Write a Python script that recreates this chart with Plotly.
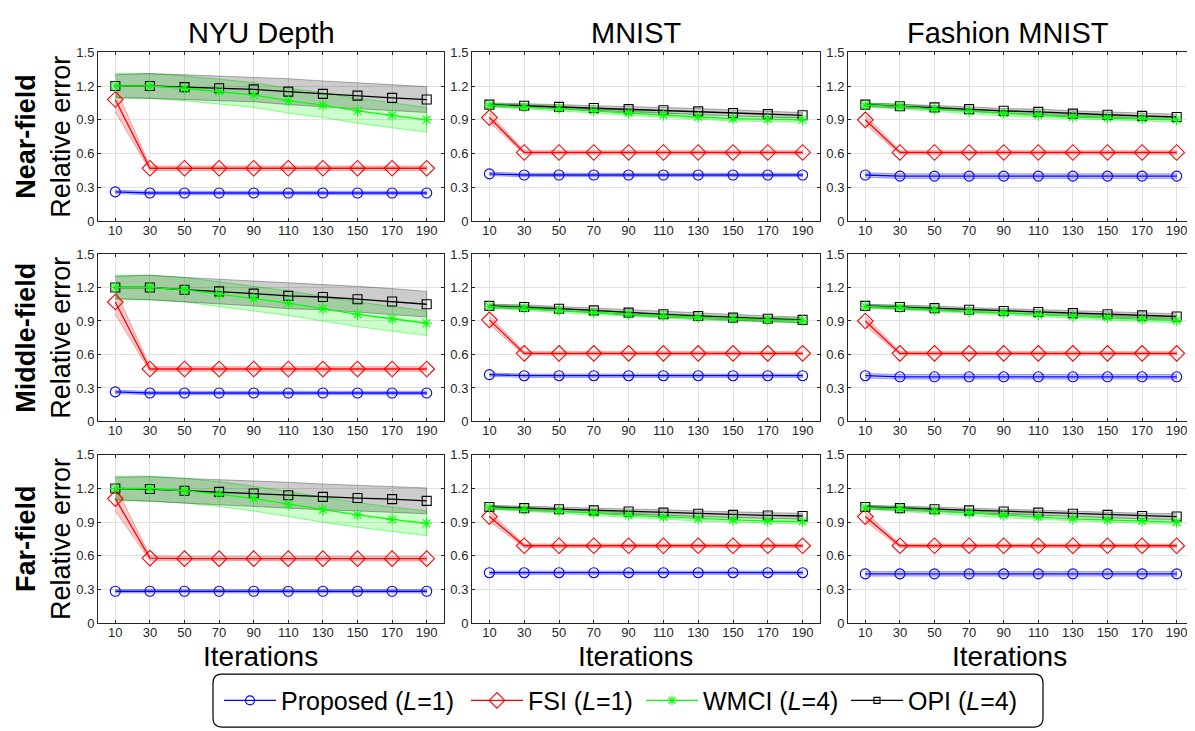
import plotly.graph_objects as go

W, H = 1195, 731

iterations = [10, 30, 50, 70, 90, 110, 130, 150, 170, 190]
datasets = ["NYU Depth", "MNIST", "Fashion MNIST"]
fields = ["Near-field", "Middle-field", "Far-field"]
method_names = ["Proposed (<i>L</i>=1)", "FSI (<i>L</i>=1)", "WMCI (<i>L</i>=4)", "OPI (<i>L</i>=4)"]
y_tick_vals = [0, 0.3, 0.6, 0.9, 1.2, 1.5]
y_tick_text = ["0", "0.3", "0.6", "0.9", "1.2", "1.5"]

# ---- Near-field ----
near_nyu_proposed = [0.26, 0.25, 0.25, 0.25, 0.25, 0.25, 0.25, 0.25, 0.25, 0.25]
near_nyu_fsi = [1.08, 0.47, 0.47, 0.47, 0.47, 0.47, 0.47, 0.47, 0.47, 0.47]
near_nyu_wmci = [1.20, 1.20, 1.18, 1.15, 1.12, 1.07, 1.03, 0.98, 0.94, 0.90]
near_nyu_opi = [1.20, 1.20, 1.19, 1.18, 1.17, 1.15, 1.13, 1.115, 1.095, 1.08]

near_mnist_proposed = [0.42, 0.41, 0.41, 0.41, 0.41, 0.41, 0.41, 0.41, 0.41, 0.41]
near_mnist_fsi = [0.92, 0.61, 0.61, 0.61, 0.61, 0.61, 0.61, 0.61, 0.61, 0.61]
near_mnist_wmci = [1.03, 1.015, 1.00, 0.98, 0.96, 0.94, 0.925, 0.91, 0.905, 0.90]
near_mnist_opi = [1.035, 1.025, 1.015, 1.005, 0.995, 0.985, 0.975, 0.96, 0.95, 0.94]

near_fashion_proposed = [0.41, 0.40, 0.40, 0.40, 0.40, 0.40, 0.40, 0.40, 0.40, 0.40]
near_fashion_fsi = [0.90, 0.61, 0.61, 0.61, 0.61, 0.61, 0.61, 0.61, 0.61, 0.61]
near_fashion_wmci = [1.03, 1.02, 0.995, 0.975, 0.955, 0.94, 0.925, 0.915, 0.91, 0.90]
near_fashion_opi = [1.035, 1.02, 1.01, 0.995, 0.98, 0.97, 0.955, 0.945, 0.935, 0.925]

# ---- Middle-field ----
mid_nyu_proposed = [0.265, 0.255, 0.255, 0.255, 0.255, 0.255, 0.255, 0.255, 0.255, 0.255]
mid_nyu_fsi = [1.07, 0.47, 0.47, 0.47, 0.47, 0.47, 0.47, 0.47, 0.47, 0.47]
mid_nyu_wmci = [1.20, 1.20, 1.18, 1.14, 1.10, 1.06, 1.01, 0.96, 0.92, 0.88]
mid_nyu_opi = [1.20, 1.20, 1.18, 1.165, 1.145, 1.125, 1.115, 1.095, 1.075, 1.05]

mid_mnist_proposed = [0.42, 0.41, 0.41, 0.41, 0.41, 0.41, 0.41, 0.41, 0.41, 0.41]
mid_mnist_fsi = [0.91, 0.61, 0.61, 0.61, 0.61, 0.61, 0.61, 0.61, 0.61, 0.61]
mid_mnist_wmci = [1.03, 1.015, 0.995, 0.975, 0.96, 0.945, 0.93, 0.92, 0.91, 0.905]
mid_mnist_opi = [1.035, 1.025, 1.01, 0.995, 0.975, 0.96, 0.945, 0.93, 0.92, 0.91]

mid_fashion_proposed = [0.41, 0.40, 0.40, 0.40, 0.40, 0.40, 0.40, 0.40, 0.40, 0.40]
mid_fashion_fsi = [0.90, 0.61, 0.61, 0.61, 0.61, 0.61, 0.61, 0.61, 0.61, 0.61]
mid_fashion_wmci = [1.03, 1.02, 1.00, 0.985, 0.97, 0.955, 0.94, 0.93, 0.915, 0.905]
mid_fashion_opi = [1.035, 1.025, 1.015, 1.00, 0.99, 0.98, 0.97, 0.96, 0.95, 0.94]

# ---- Far-field ----
far_nyu_proposed = [0.285, 0.285, 0.285, 0.285, 0.285, 0.285, 0.285, 0.285, 0.285, 0.285]
far_nyu_fsi = [1.11, 0.58, 0.575, 0.575, 0.575, 0.575, 0.575, 0.575, 0.575, 0.575]
far_nyu_wmci = [1.20, 1.20, 1.18, 1.15, 1.11, 1.06, 1.01, 0.965, 0.925, 0.89]
far_nyu_opi = [1.20, 1.195, 1.18, 1.17, 1.155, 1.14, 1.125, 1.115, 1.105, 1.09]

far_mnist_proposed = [0.45, 0.45, 0.45, 0.45, 0.45, 0.45, 0.45, 0.45, 0.45, 0.45]
far_mnist_fsi = [0.95, 0.69, 0.69, 0.69, 0.69, 0.69, 0.69, 0.69, 0.69, 0.69]
far_mnist_wmci = [1.03, 1.015, 1.00, 0.98, 0.96, 0.945, 0.93, 0.92, 0.91, 0.905]
far_mnist_opi = [1.035, 1.025, 1.015, 1.005, 0.995, 0.985, 0.975, 0.965, 0.96, 0.955]

far_fashion_proposed = [0.44, 0.44, 0.44, 0.44, 0.44, 0.44, 0.44, 0.44, 0.44, 0.44]
far_fashion_fsi = [0.95, 0.69, 0.69, 0.69, 0.69, 0.69, 0.69, 0.69, 0.69, 0.69]
far_fashion_wmci = [1.03, 1.02, 1.00, 0.98, 0.96, 0.945, 0.93, 0.92, 0.91, 0.90]
far_fashion_opi = [1.035, 1.025, 1.015, 1.005, 0.995, 0.985, 0.975, 0.965, 0.955, 0.95]

# ---- band half-widths (per dataset, per method) ----
nyu_band_proposed = [0.015] * 10
nyu_band_fsi = [0.11, 0.02, 0.02, 0.02, 0.02, 0.02, 0.02, 0.02, 0.02, 0.02]
nyu_band_wmci = [0.11, 0.11, 0.11, 0.11, 0.11, 0.11, 0.11, 0.11, 0.11, 0.11]
nyu_band_opi = [0.10, 0.11, 0.11, 0.11, 0.11, 0.115, 0.115, 0.115, 0.115, 0.115]

mnist_band_proposed = [0.015] * 10
mnist_band_fsi = [0.04, 0.015, 0.015, 0.015, 0.015, 0.015, 0.015, 0.015, 0.015, 0.015]
mnist_band_wmci = [0.015, 0.02, 0.02, 0.02, 0.02, 0.02, 0.02, 0.02, 0.02, 0.02]
mnist_band_opi = [0.015, 0.02, 0.02, 0.02, 0.025, 0.025, 0.025, 0.025, 0.025, 0.025]

fashion_band_proposed = [0.02] * 10
fashion_band_fsi = [0.04, 0.015, 0.015, 0.015, 0.015, 0.015, 0.015, 0.015, 0.015, 0.015]
fashion_band_wmci = [0.015, 0.02, 0.02, 0.02, 0.02, 0.02, 0.02, 0.02, 0.02, 0.02]
fashion_band_opi = [0.015, 0.02, 0.02, 0.02, 0.02, 0.025, 0.025, 0.025, 0.025, 0.025]

panel_means = [
    [(near_nyu_proposed, near_nyu_fsi, near_nyu_wmci, near_nyu_opi),
     (near_mnist_proposed, near_mnist_fsi, near_mnist_wmci, near_mnist_opi),
     (near_fashion_proposed, near_fashion_fsi, near_fashion_wmci, near_fashion_opi)],
    [(mid_nyu_proposed, mid_nyu_fsi, mid_nyu_wmci, mid_nyu_opi),
     (mid_mnist_proposed, mid_mnist_fsi, mid_mnist_wmci, mid_mnist_opi),
     (mid_fashion_proposed, mid_fashion_fsi, mid_fashion_wmci, mid_fashion_opi)],
    [(far_nyu_proposed, far_nyu_fsi, far_nyu_wmci, far_nyu_opi),
     (far_mnist_proposed, far_mnist_fsi, far_mnist_wmci, far_mnist_opi),
     (far_fashion_proposed, far_fashion_fsi, far_fashion_wmci, far_fashion_opi)],
]
dataset_bands = [
    (nyu_band_proposed, nyu_band_fsi, nyu_band_wmci, nyu_band_opi),
    (mnist_band_proposed, mnist_band_fsi, mnist_band_wmci, mnist_band_opi),
    (fashion_band_proposed, fashion_band_fsi, fashion_band_wmci, fashion_band_opi),
]

# ---- styles ----
colors = ["rgb(0,0,255)", "rgb(255,0,0)", "rgb(0,255,0)", "rgb(0,0,0)"]
fill_colors = ["rgba(0,0,255,0.2)", "rgba(255,0,0,0.2)", "rgba(0,255,0,0.2)", "rgba(0,0,0,0.2)"]
edge_colors = ["rgba(0,0,255,0.35)", "rgba(255,0,0,0.35)", "rgba(0,255,0,0.45)", "rgba(0,0,0,0.3)"]
symbols = ["circle-open", "diamond-open", "asterisk-open", "square-open"]
marker_sizes = [10, 12, 9, 9]
legend_marker_sizes = [9, 12, 8, 6]
draw_order = [0, 1, 3, 2]

FONT = "Liberation Sans, Arial, Helvetica, sans-serif"
AXC = "rgb(38,38,38)"

# pixel geometry of panels
col_px = [(90, 436), (464, 812), (840, 1186)]
row_px = [(38, 210.5), (244, 415), (449, 621)]
title_cx = [253, 628, 1000]
iter_cx = [252, 627, 1001]
legend_left_px = [211, 458, 633, 838]
legend_keys = ["legend", "legend2", "legend3", "legend4"]

fig = go.Figure()
layout_axes = {}

for r in range(3):
    for c in range(3):
        k = r * 3 + c
        xname = "x" if k == 0 else f"x{k+1}"
        yname = "y" if k == 0 else f"y{k+1}"
        means = panel_means[r][c]
        bands = dataset_bands[c]
        for m in range(4):
            upper = [v + b for v, b in zip(means[m], bands[m])]
            lower = [v - b for v, b in zip(means[m], bands[m])]
            fig.add_trace(go.Scatter(
                x=iterations + iterations[::-1], y=upper + lower[::-1],
                fill="toself", fillcolor=fill_colors[m],
                line=dict(color=edge_colors[m], width=1),
                mode="lines", hoverinfo="skip", showlegend=False,
                xaxis=xname, yaxis=yname))
        for m in draw_order:
            fig.add_trace(go.Scatter(
                x=iterations, y=means[m], mode="lines+markers",
                name=method_names[m],
                line=dict(color=colors[m], width=1.3),
                marker=dict(symbol=symbols[m], size=marker_sizes[m], color=colors[m],
                            line=dict(width=1.1, color=colors[m])),
                showlegend=False,
                xaxis=xname, yaxis=yname))
        x0, x1 = col_px[c]
        y0, y1 = row_px[r]
        axkey = "xaxis" if k == 0 else f"xaxis{k+1}"
        aykey = "yaxis" if k == 0 else f"yaxis{k+1}"
        common = dict(showgrid=True, gridcolor="rgb(225,225,225)", gridwidth=1,
                      showline=True, linecolor=AXC, linewidth=1, mirror="ticks",
                      ticks="inside", ticklen=3, tickcolor=AXC, tickwidth=1,
                      zeroline=False,
                      tickfont=dict(family=FONT, size=13, color=AXC))
        layout_axes[axkey] = dict(
            domain=[x0 / W, x1 / W], anchor=yname, range=[0, 200],
            tickvals=iterations, ticktext=[str(v) for v in iterations],
            ticklabelstandoff=-3, **common)
        layout_axes[aykey] = dict(
            domain=[1 - y1 / H, 1 - y0 / H], anchor=xname, range=[0, 1.5],
            tickvals=y_tick_vals, ticktext=y_tick_text, **common)

# legend-only entries (one legend per entry for exact spacing)
for m in range(4):
    fig.add_trace(go.Scatter(
        x=[None], y=[None], mode="lines+markers", name=method_names[m],
        line=dict(color=colors[m], width=1.3),
        marker=dict(symbol=symbols[m], size=legend_marker_sizes[m], color=colors[m],
                    line=dict(width=1.1, color=colors[m])),
        showlegend=True, legend=legend_keys[m], xaxis="x", yaxis="y"))

annotations = []
for c in range(3):
    annotations.append(dict(text=datasets[c], x=title_cx[c] / W, y=1.0, xref="paper", yref="paper",
                            showarrow=False, xanchor="center", yanchor="top",
                            font=dict(family=FONT, size=29, color="black")))
    annotations.append(dict(text="Iterations", x=iter_cx[c] / W, y=1 - 655 / H, xref="paper", yref="paper",
                            showarrow=False, xanchor="center", yanchor="middle",
                            font=dict(family=FONT, size=28, color="black")))
for r in range(3):
    yc = 1 - (row_px[r][0] + row_px[r][1]) / 2 / H
    annotations.append(dict(text="<b>" + fields[r] + "</b>", x=18 / W, y=yc, xref="paper", yref="paper",
                            showarrow=False, xanchor="center", yanchor="middle", textangle=-90,
                            font=dict(family=FONT, size=27, color="black")))
    annotations.append(dict(text="Relative error", x=53 / W, y=yc, xref="paper", yref="paper",
                            showarrow=False, xanchor="center", yanchor="middle", textangle=-90,
                            font=dict(family=FONT, size=27, color="black")))

# rounded legend box
lx0, lx1, ly0, ly1, rad = 205, 1035, 673, 727, 9
def px(x):
    return x / W
def py(y):
    return 1 - y / H
path = (f"M {px(lx0+rad)},{py(ly0)} L {px(lx1-rad)},{py(ly0)} "
        f"Q {px(lx1)},{py(ly0)} {px(lx1)},{py(ly0+rad)} L {px(lx1)},{py(ly1-rad)} "
        f"Q {px(lx1)},{py(ly1)} {px(lx1-rad)},{py(ly1)} L {px(lx0+rad)},{py(ly1)} "
        f"Q {px(lx0)},{py(ly1)} {px(lx0)},{py(ly1-rad)} L {px(lx0)},{py(ly0+rad)} "
        f"Q {px(lx0)},{py(ly0)} {px(lx0+rad)},{py(ly0)} Z")

legend_layouts = {}
for m in range(4):
    legend_layouts[legend_keys[m]] = dict(
        orientation="h", x=legend_left_px[m] / W, y=1 - (ly0 + ly1) / 2 / H,
        xanchor="left", yanchor="middle", bgcolor="rgba(0,0,0,0)",
        font=dict(family=FONT, size=25, color="black"),
        itemwidth=52, tracegroupgap=0, borderwidth=0)

fig.update_layout(
    width=W, height=H,
    margin=dict(l=0, r=0, t=0, b=0),
    paper_bgcolor="white", plot_bgcolor="white",
    font=dict(family=FONT, color="black"),
    annotations=annotations,
    shapes=[dict(type="path", path=path, xref="paper", yref="paper",
                 line=dict(color="black", width=1.2), fillcolor="rgba(0,0,0,0)")],
    showlegend=True,
    **legend_layouts,
    **layout_axes,
)

fig.write_html("out.html")
